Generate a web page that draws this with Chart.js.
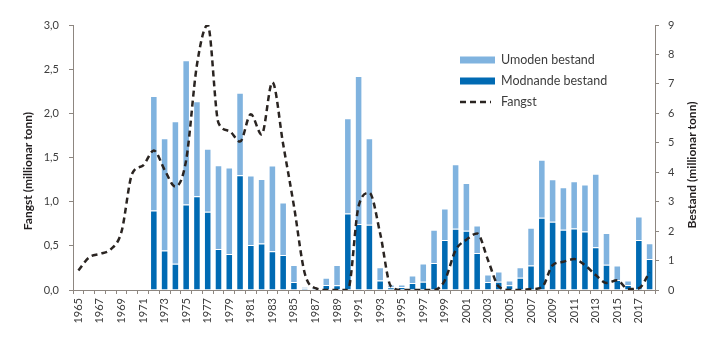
<!DOCTYPE html>
<html>
<head>
<meta charset="utf-8">
<script src="https://cdn.jsdelivr.net/npm/chart.js@4.4.1/dist/chart.umd.min.js"></script>
<style>
  html, body { margin: 0; padding: 0; background: #fff; }
  #wrap { position: relative; width: 719px; height: 341px; }
</style>
</head>
<body>
<div id="wrap"><canvas id="chart" width="719" height="341"></canvas></div>
<script>
// years on the x axis
const years = [];
for (let y = 1965; y <= 2018; y++) years.push(String(y));

// Fangst (millionar tonn), left axis
const fangst = [
  0.22, 0.37, 0.41, 0.46, 0.66, 1.32, 1.41, 1.58, 1.36, 1.17,
  1.47, 2.55, 3.00, 1.89, 1.80, 1.68, 1.99, 1.76, 2.35, 1.65,
  0.95, 0.19, 0.02, 0.00, 0.00, 0.00, 0.95, 1.10, 0.64, 0.04,
  0.00, 0.00, 0.00, 0.00, 0.11, 0.45, 0.57, 0.64, 0.34, 0.04,
  0.00, 0.00, 0.01, 0.03, 0.28, 0.32, 0.35, 0.28, 0.17, 0.08,
  0.11, 0.01, 0.02, 0.20
];

// Modnande bestand (millionar tonn), right axis - no data before 1972
const modnande = [
  null, null, null, null, null, null, null, 2.70, 1.34, 0.89,
  2.90, 3.18, 2.66, 1.39, 1.22, 3.90, 1.53, 1.58, 1.32, 1.19,
  0.27, 0.05, 0.02, 0.17, 0.16, 2.60, 2.24, 2.22, 0.32, 0.09,
  0.10, 0.24, 0.28, 0.92, 1.70, 2.08, 2.01, 1.26, 0.27, 0.28,
  0.16, 0.42, 0.83, 2.45, 2.32, 2.05, 2.09, 1.99, 1.45, 0.86,
  0.34, 0.17, 1.70, 1.05
];

// Umoden bestand (millionar tonn), stacked on top of modnande
const umoden = [
  null, null, null, null, null, null, null, 3.89, 3.81, 4.84,
  4.90, 3.23, 2.14, 2.85, 2.94, 2.80, 2.36, 2.19, 2.91, 1.78,
  0.58, 0.05, 0.07, 0.25, 0.69, 3.23, 5.03, 2.93, 0.45, 0.10,
  0.09, 0.25, 0.62, 1.13, 1.07, 2.19, 1.62, 0.93, 0.26, 0.35,
  0.16, 0.35, 1.28, 1.97, 1.44, 1.44, 1.60, 1.59, 2.50, 1.08,
  0.49, 0.15, 0.80, 0.54
];

const leftTitle = 'Fangst (millionar tonn)';
const rightTitle = 'Bestand (millionar tonn)';

const LIGHT = '#80b3df';
const DARK = '#006ab3';
const LINE = '#2a2421';
const AXIS = '#8d8680';
const TEXT = '#3d3d3d';
const FONT = 'Lato';

// axis titles and the legend box drawn on the canvas
const extras = {
  id: 'extras',
  afterDraw(chart) {
    const ctx = chart.ctx;
    ctx.save();
    ctx.fillStyle = '#231f20';
    ctx.font = 'bold 12px ' + FONT;
    ctx.textAlign = 'center';
    ctx.textBaseline = 'middle';

    ctx.save();
    ctx.translate(28, 171);
    ctx.rotate(-Math.PI / 2);
    ctx.fillText(leftTitle, 0, 0);
    ctx.restore();

    ctx.save();
    ctx.translate(692, 165);
    ctx.rotate(-Math.PI / 2);
    ctx.fillText(rightTitle, 0, 0);
    ctx.restore();

    // legend
    const items = [
      { label: chart.data.datasets[1].label, color: LIGHT, y: 60 },
      { label: chart.data.datasets[0].label, color: DARK, y: 81 },
      { label: chart.data.datasets[2].label, color: LINE, y: 102, dashed: true }
    ];
    ctx.font = '12.5px ' + FONT;
    ctx.textAlign = 'left';
    items.forEach(it => {
      if (it.dashed) {
        ctx.strokeStyle = it.color;
        ctx.lineWidth = 2.5;
        ctx.setLineDash([6, 4]);
        ctx.beginPath();
        ctx.moveTo(460, it.y);
        ctx.lineTo(491, it.y);
        ctx.stroke();
        ctx.setLineDash([]);
      } else {
        ctx.fillStyle = it.color;
        ctx.fillRect(460, it.y - 3.5, 35, 7);
      }
      ctx.fillStyle = TEXT;
      ctx.fillText(it.label, 501, it.y);
    });
    ctx.restore();
  }
};

const ctx = document.getElementById('chart');
new Chart(ctx, {
  data: {
    labels: years,
    datasets: [
      {
        type: 'bar',
        label: 'Modnande bestand',
        data: modnande,
        backgroundColor: DARK,
        borderColor: 'rgba(255,255,255,0.45)',
        borderWidth: 1,
        yAxisID: 'yR',
        stack: 'bestand',
        categoryPercentage: 1,
        barPercentage: 0.7,
        order: 2
      },
      {
        type: 'bar',
        label: 'Umoden bestand',
        data: umoden,
        backgroundColor: LIGHT,
        borderColor: 'rgba(255,255,255,0.45)',
        borderWidth: 1,
        yAxisID: 'yR',
        stack: 'bestand',
        categoryPercentage: 1,
        barPercentage: 0.7,
        order: 2
      },
      {
        type: 'line',
        label: 'Fangst',
        data: fangst,
        borderColor: LINE,
        borderWidth: 2.5,
        borderDash: [6, 4],
        pointRadius: 0,
        cubicInterpolationMode: 'monotone',
        fill: false,
        yAxisID: 'yL',
        order: 1
      }
    ]
  },
  options: {
    responsive: false,
    animation: false,
    layout: { padding: { top: 25, left: 0, right: 0, bottom: 0 } },
    plugins: {
      legend: { display: false },
      tooltip: { enabled: false }
    },
    scales: {
      x: {
        stacked: true,
        offset: true,
        afterFit(scale) { scale.height = 51; },
        grid: { drawOnChartArea: false, offset: true, tickLength: 4, color: AXIS },
        border: { color: AXIS, width: 1 },
        ticks: {
          autoSkip: false,
          maxRotation: 90,
          minRotation: 90,
          padding: 4,
          color: TEXT,
          font: { family: FONT, size: 11 },
          callback(val, i) { return i % 2 === 0 ? this.getLabelForValue(val) : ''; }
        }
      },
      yL: {
        position: 'left',
        min: 0,
        max: 3,
        afterFit(scale) { scale.width = 73; },
        grid: { drawOnChartArea: false, tickLength: 4, color: AXIS },
        border: { color: AXIS, width: 1 },
        ticks: {
          stepSize: 0.5,
          padding: 10,
          color: TEXT,
          font: { family: FONT, size: 11 },
          callback: v => v.toFixed(1).replace('.', ',')
        }
      },
      yR: {
        position: 'right',
        stacked: true,
        min: 0,
        max: 9,
        afterFit(scale) { scale.width = 64; },
        grid: { drawOnChartArea: false, tickLength: 4, color: AXIS },
        border: { color: AXIS, width: 1 },
        ticks: {
          stepSize: 1,
          padding: 9,
          color: TEXT,
          font: { family: FONT, size: 11 }
        }
      }
    }
  },
  plugins: [extras]
});
</script>
</body>
</html>
